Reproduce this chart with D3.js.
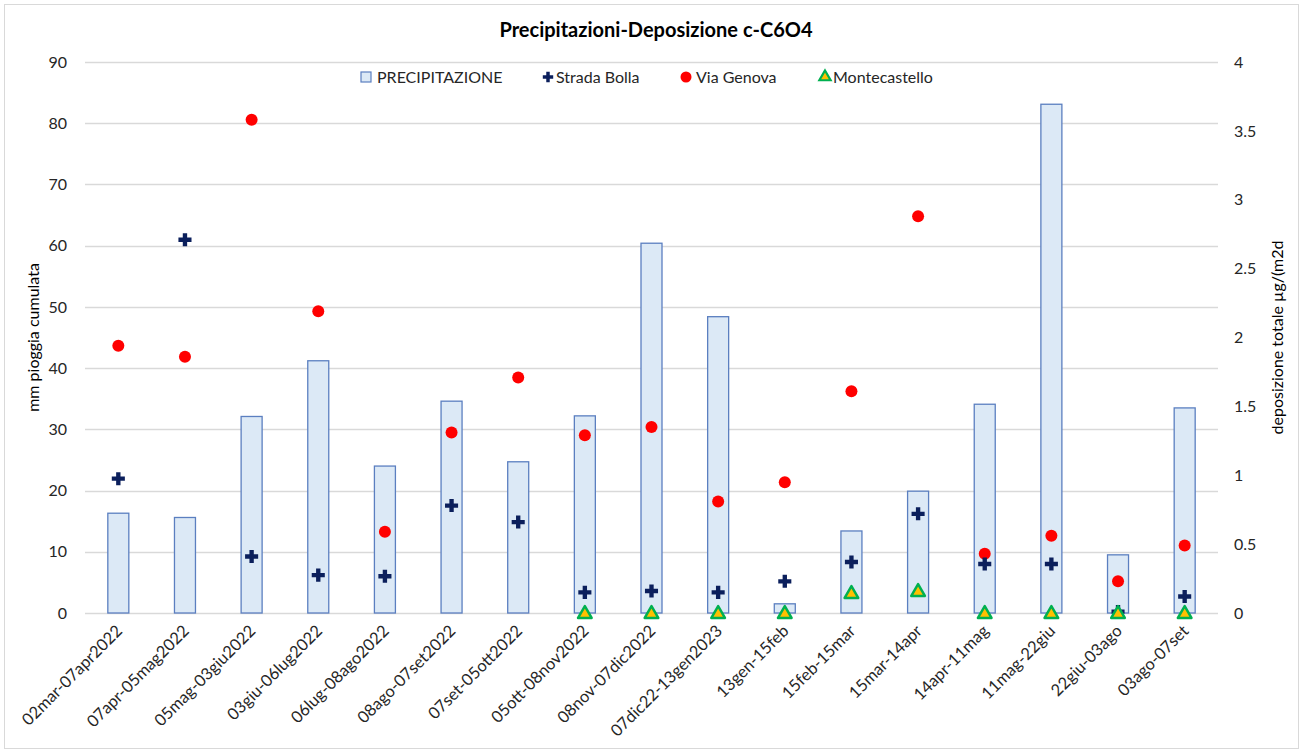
<!DOCTYPE html>
<html>
<head>
<meta charset="utf-8">
<script src="https://cdn.jsdelivr.net/npm/d3@7"></script>
<style>
  html, body { margin: 0; padding: 0; background: #fff; }
  svg { display: block; font-family: Lato, "Open Sans", sans-serif; }
</style>
</head>
<body>
<svg id="chart" width="1303" height="753"></svg>
<script>
// Sampling periods
const periods = [
  "02mar-07apr2022", "07apr-05mag2022", "05mag-03giu2022", "03giu-06lug2022",
  "06lug-08ago2022", "08ago-07set2022", "07set-05ott2022", "05ott-08nov2022",
  "08nov-07dic2022", "07dic22-13gen2023", "13gen-15feb", "15feb-15mar",
  "15mar-14apr", "14apr-11mag", "11mag-22giu", "22giu-03ago", "03ago-07set"
];
// Cumulative rainfall (mm), left axis
const precipitazione = [16.3, 15.6, 32.1, 41.2, 24.0, 34.6, 24.7, 32.2, 60.4, 48.4, 1.5, 13.4, 19.9, 34.1, 83.1, 9.5, 33.5];
// Total deposition (µg/m2d), right axis
const stradaBolla   = [0.975, 2.71, 0.41, 0.275, 0.267, 0.78, 0.66, 0.15, 0.16, 0.15, 0.23, 0.37, 0.72, 0.356, 0.356, 0.01, 0.12];
const viaGenova     = [1.94, 1.86, 3.58, 2.19, 0.59, 1.31, 1.71, 1.29, 1.35, 0.81, 0.95, 1.61, 2.88, 0.43, 0.56, 0.23, 0.49];
const montecastello = [null, null, null, null, null, null, null, 0, 0, 0, 0, 0.145, 0.16, 0, 0, 0, 0];
// Axis ticks
const leftTicks  = [0, 10, 20, 30, 40, 50, 60, 70, 80, 90];
const rightTicks = [0, 0.5, 1, 1.5, 2, 2.5, 3, 3.5, 4];

const svg = d3.select("#chart");
const plot = { left: 85, right: 1218, top: 62, bottom: 613 };

const x = d3.scaleBand().domain(periods).range([plot.left, plot.right]).paddingInner(0).paddingOuter(0);
const yL = d3.scaleLinear().domain([0, 90]).range([plot.bottom, plot.top]);
const yR = d3.scaleLinear().domain([0, 4]).range([plot.bottom, plot.top]);

// outer chart frame
svg.append("rect").attr("x", 4.5).attr("y", 4.5).attr("width", 1294).attr("height", 744)
  .attr("fill", "#fff").attr("stroke", "#d9d9d9").attr("stroke-width", 1);

// title
svg.append("text").attr("x", 656).attr("y", 37).attr("text-anchor", "middle")
  .attr("font-size", 20).attr("font-weight", "bold").attr("fill", "#000")
  .text("Precipitazioni-Deposizione c-C6O4");

// gridlines
svg.append("g").selectAll("line").data(leftTicks).join("line")
  .attr("x1", plot.left).attr("x2", plot.right)
  .attr("y1", d => Math.round(yL(d)) + 0.5).attr("y2", d => Math.round(yL(d)) + 0.5)
  .attr("stroke", "#d9d9d9").attr("stroke-width", 1.3);

// left axis
const axL = svg.append("g").attr("transform", `translate(${plot.left},0)`)
  .call(d3.axisLeft(yL).tickValues(leftTicks).tickSize(0).tickPadding(18));
axL.select(".domain").remove();
axL.selectAll("text").attr("font-size", 16).attr("fill", "#262626").attr("font-family", "Lato, sans-serif");

// right axis
const axR = svg.append("g").attr("transform", `translate(${plot.right},0)`)
  .call(d3.axisRight(yR).tickValues(rightTicks).tickSize(0).tickPadding(16).tickFormat(d3.format("")));
axR.select(".domain").remove();
axR.selectAll("text").attr("font-size", 16).attr("fill", "#262626").attr("font-family", "Lato, sans-serif");

// axis titles
svg.append("text").attr("transform", `translate(39,${(plot.top + plot.bottom) / 2}) rotate(-90)`)
  .attr("text-anchor", "middle").attr("font-size", 16).attr("fill", "#000")
  .text("mm pioggia cumulata");
svg.append("text").attr("transform", `translate(1283,${(plot.top + plot.bottom) / 2}) rotate(-90)`)
  .attr("text-anchor", "middle").attr("font-size", 16).attr("fill", "#000")
  .text("deposizione totale µg/(m2d");

// bars
const barW = 21;
svg.append("g").selectAll("rect").data(periods).join("rect")
  .attr("x", d => x(d) + x.bandwidth() / 2 - barW / 2)
  .attr("y", (d, i) => yL(precipitazione[i]))
  .attr("width", barW)
  .attr("height", (d, i) => yL(0) - yL(precipitazione[i]))
  .attr("fill", "#dce9f6").attr("stroke", "#5b7fc0").attr("stroke-width", 1.3);

// x axis labels
const axX = svg.append("g").attr("transform", `translate(0,${plot.bottom})`)
  .call(d3.axisBottom(x).tickSize(0).tickPadding(0));
axX.select(".domain").remove();
axX.selectAll("text")
  .attr("font-size", 16.5).attr("fill", "#262626").attr("font-family", "Lato, sans-serif")
  .attr("text-anchor", "end")
  .attr("dy", null).attr("y", 0)
  .attr("transform", "translate(5,19) rotate(-45)");

const cx = d => x(d) + x.bandwidth() / 2;

// Via Genova
svg.append("g").selectAll("circle").data(periods).join("circle")
  .attr("cx", cx).attr("cy", (d, i) => yR(viaGenova[i])).attr("r", 6)
  .attr("fill", "#ff0000");

// Strada Bolla
const cross = d3.symbol().type(d3.symbolCross).size(95);
svg.append("g").selectAll("path").data(periods).join("path")
  .attr("d", cross)
  .attr("transform", (d, i) => `translate(${cx(d)},${yR(stradaBolla[i])})`)
  .attr("fill", "#0b1f5c");

// Montecastello
const tri = d3.symbol().type(d3.symbolTriangle).size(80);
svg.append("g").selectAll("path")
  .data(periods.map((p, i) => ({ p, v: montecastello[i] })).filter(d => d.v !== null))
  .join("path")
  .attr("d", tri)
  .attr("transform", d => `translate(${cx(d.p)},${yR(d.v) + 1})`)
  .attr("fill", "#ffc000").attr("stroke", "#00b050").attr("stroke-width", 2.5)
  .attr("stroke-linejoin", "round");

// legend
const legend = svg.append("g").attr("font-size", 16).attr("fill", "#262626");
const ly = 77;
legend.append("rect").attr("x", 361).attr("y", ly - 5).attr("width", 10).attr("height", 10)
  .attr("fill", "#dce9f6").attr("stroke", "#5b7fc0").attr("stroke-width", 1.2);
legend.append("text").attr("x", 377).attr("y", ly + 6).text("PRECIPITAZIONE");
legend.append("path").attr("d", d3.symbol().type(d3.symbolCross).size(60))
  .attr("transform", `translate(548,${ly})`).attr("fill", "#0b1f5c");
legend.append("text").attr("x", 556).attr("y", ly + 6).text("Strada Bolla");
legend.append("circle").attr("cx", 686).attr("cy", ly).attr("r", 5.5).attr("fill", "#ff0000");
legend.append("text").attr("x", 696).attr("y", ly + 6).text("Via Genova");
legend.append("path").attr("d", d3.symbol().type(d3.symbolTriangle).size(55))
  .attr("transform", `translate(825,${ly})`)
  .attr("fill", "#ffc000").attr("stroke", "#00b050").attr("stroke-width", 2.2);
legend.append("text").attr("x", 833).attr("y", ly + 6).text("Montecastello");
</script>
</body>
</html>
